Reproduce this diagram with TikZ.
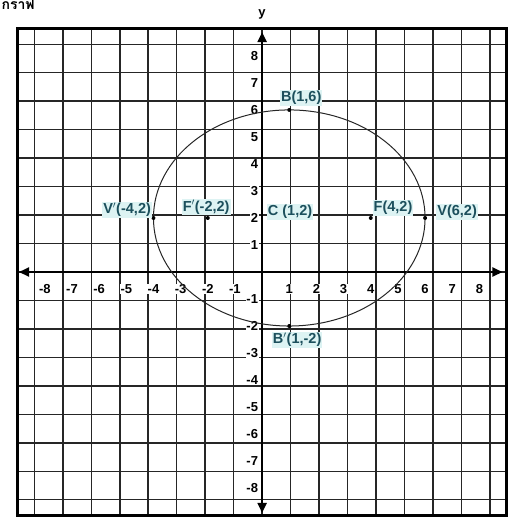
\documentclass[tikz,border=0pt]{standalone}
\usepackage{fontspec}
\setmainfont{Liberation Sans}
\newfontfamily\thaifont[Script=Thai]{Loma}
\usetikzlibrary{arrows.meta}
\definecolor{inkteal}{HTML}{1C4F5C}
\definecolor{hilite}{HTML}{DDF3F3}
\tikzset{
  gridln/.style={line width=1.5pt, black!85},
  frame/.style={line width=3pt, black},
  axisln/.style={line width=2.2pt, black, {Triangle[length=10pt,width=9pt]}-{Triangle[length=10pt,width=9pt]}},
  ticklab/.style={font=\fontsize{13}{13}\selectfont\bfseries, fill=white, inner sep=0.6pt},
  ptlab/.style={font=\fontsize{14.5}{15}\selectfont\bfseries, text=inkteal, fill=hilite, inner sep=1pt},
  ptdot/.style={circle, fill=black, inner sep=0pt, minimum size=4pt},
  curve/.style={line width=1pt, black!85}
}
\begin{document}
\begin{tikzpicture}[x=27.15pt,y=27pt]
\useasboundingbox (-9.65,-9.07) rectangle (9.17,10.07);
% Thai heading
\node[anchor=base west, font=\thaifont\fontsize{14}{14}\selectfont\bfseries, inner sep=0pt] (head) at (-9.6,9.7) {กราฟ};
% grid
\draw[gridln] (-9,-9) grid (9,9);
\draw[frame] (-9,-9) rectangle (9,9);
% axes
\coordinate (xl) at (-8.95,0);
\coordinate (xr) at (8.85,0);
\coordinate (yt) at (0,8.88);
\coordinate (yb) at (0,-8.92);
\draw[axisln] (xl) -- (xr);
\draw[axisln] (yb) -- (yt);
\node[font=\fontsize{13}{13}\selectfont\bfseries] (ylab) at (0,9.55) {y};
% tick labels
\foreach \i in {1,...,8} {
  \node[ticklab] (xp\i) at (\i,-0.62) {\i};
  \node[ticklab] (xn\i) at (-\i,-0.62) {-\i};
  \node[ticklab, anchor=east] (yp\i) at (-0.12,\i) {\i};
  \node[ticklab, anchor=east] (yn\i) at (-0.12,-\i) {-\i};
}
% ellipse
\draw[curve] (1,2) ellipse [x radius=5, y radius=4];
% points
\node[ptdot] (Bt) at (1,6) {};
\node[ptdot] (Bb) at (1,-2) {};
\node[ptdot] (C) at (1,2) {};
\node[ptdot] (F) at (4,2) {};
\node[ptdot] (Fp) at (-2,2) {};
\node[ptdot] (V) at (6,2) {};
\node[ptdot] (Vp) at (-4,2) {};
% point labels
\node[ptlab] (lVp) at (-4.97,2.3) {V$'$(-4,2)};
\node[ptlab] (lFp) at (-2.06,2.4) {F$'$(-2,2)};
\node[ptlab] (lC) at (1.03,2.22) {C (1,2)};
\node[ptlab] (lF) at (4.82,2.37) {F(4,2)};
\node[ptlab] (lV) at (7.18,2.22) {V(6,2)};
\node[ptlab] (lBt) at (1.44,6.44) {B(1,6)};
\node[ptlab] (lBb) at (1.29,-2.52) {B$'$(1,-2)};
\end{tikzpicture}
\end{document}
